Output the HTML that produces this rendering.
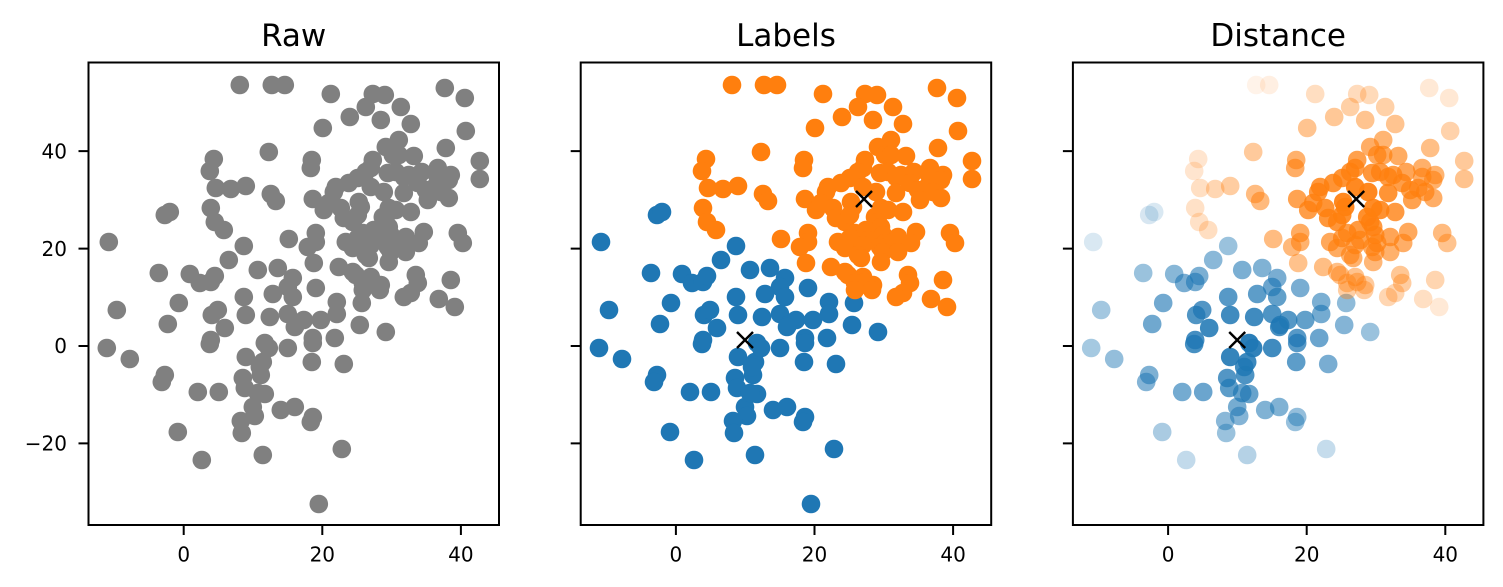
<!DOCTYPE html>
<html><head><meta charset="utf-8"><style>
html,body{margin:0;padding:0;background:#fff;}
svg{display:block;}
text{font-family:"DejaVu Sans","Liberation Sans",sans-serif;fill:#000;}
</style></head><body>
<svg width="1503" height="587" viewBox="0 0 1503 587" xmlns="http://www.w3.org/2000/svg">
<defs>
<g id="B">
<circle cx="601" cy="242" r="9.3"/><circle cx="609" cy="310" r="9.3"/><circle cx="599" cy="348" r="9.3"/><circle cx="622" cy="359" r="9.3"/><circle cx="651" cy="273" r="9.3"/><circle cx="657" cy="215" r="9.3"/><circle cx="662" cy="212" r="9.3"/><circle cx="671" cy="303" r="9.3"/><circle cx="660" cy="324" r="9.3"/><circle cx="657" cy="375" r="9.3"/><circle cx="654" cy="382" r="9.3"/><circle cx="690" cy="392" r="9.3"/><circle cx="711" cy="392" r="9.3"/><circle cx="670" cy="432" r="9.3"/><circle cx="694" cy="460" r="9.3"/><circle cx="682" cy="274" r="9.3"/><circle cx="692" cy="283" r="9.3"/><circle cx="703" cy="282" r="9.3"/><circle cx="707" cy="276" r="9.3"/><circle cx="721" cy="260" r="9.3"/><circle cx="736" cy="246" r="9.3"/><circle cx="704" cy="315" r="9.3"/><circle cx="710" cy="310" r="9.3"/><circle cx="717" cy="328" r="9.3"/><circle cx="702" cy="344" r="9.3"/><circle cx="703" cy="340" r="9.3"/><circle cx="736" cy="297" r="9.3"/><circle cx="738" cy="315" r="9.3"/><circle cx="750" cy="270" r="9.3"/><circle cx="770" cy="268" r="9.3"/><circle cx="785" cy="278" r="9.3"/><circle cx="780" cy="287" r="9.3"/><circle cx="765" cy="294" r="9.3"/><circle cx="762" cy="317" r="9.3"/><circle cx="780" cy="314" r="9.3"/><circle cx="738" cy="357" r="9.3"/><circle cx="757" cy="343" r="9.3"/><circle cx="755" cy="362" r="9.3"/><circle cx="753" cy="375" r="9.3"/><circle cx="735" cy="378" r="9.3"/><circle cx="737" cy="388" r="9.3"/><circle cx="757" cy="394" r="9.3"/><circle cx="745" cy="407" r="9.3"/><circle cx="747" cy="416" r="9.3"/><circle cx="733" cy="421" r="9.3"/><circle cx="734" cy="433" r="9.3"/><circle cx="755" cy="455" r="9.3"/><circle cx="773" cy="410" r="9.3"/><circle cx="787" cy="407" r="9.3"/><circle cx="788" cy="325" r="9.3"/><circle cx="796" cy="320" r="9.3"/><circle cx="813" cy="320" r="9.3"/><circle cx="780" cy="348" r="9.3"/><circle cx="785" cy="297" r="9.3"/><circle cx="808" cy="288" r="9.3"/><circle cx="829" cy="302" r="9.3"/><circle cx="829" cy="314" r="9.3"/><circle cx="854" cy="303" r="9.3"/><circle cx="852" cy="325" r="9.3"/><circle cx="878" cy="332" r="9.3"/><circle cx="787" cy="327" r="9.3"/><circle cx="805" cy="338" r="9.3"/><circle cx="805" cy="343" r="9.3"/><circle cx="827" cy="338" r="9.3"/><circle cx="804" cy="362" r="9.3"/><circle cx="836" cy="364" r="9.3"/><circle cx="805" cy="417" r="9.3"/><circle cx="803" cy="422" r="9.3"/><circle cx="834" cy="449" r="9.3"/><circle cx="811" cy="504" r="9.3"/><circle cx="761" cy="348" r="9.3"/><circle cx="752" cy="367" r="9.3"/><circle cx="750" cy="393" r="9.3"/>
</g>
<g id="O">
<circle cx="732" cy="85" r="9.3"/><circle cx="764" cy="85" r="9.3"/><circle cx="777" cy="85" r="9.3"/><circle cx="761" cy="152" r="9.3"/><circle cx="706" cy="159" r="9.3"/><circle cx="702" cy="171" r="9.3"/><circle cx="708" cy="188" r="9.3"/><circle cx="723" cy="189" r="9.3"/><circle cx="738" cy="186" r="9.3"/><circle cx="763" cy="194" r="9.3"/><circle cx="768" cy="201" r="9.3"/><circle cx="703" cy="208" r="9.3"/><circle cx="707" cy="222" r="9.3"/><circle cx="716" cy="230" r="9.3"/><circle cx="781" cy="239" r="9.3"/><circle cx="823" cy="94" r="9.3"/><circle cx="865" cy="94" r="9.3"/><circle cx="877" cy="95" r="9.3"/><circle cx="858" cy="107" r="9.3"/><circle cx="893" cy="107" r="9.3"/><circle cx="842" cy="117" r="9.3"/><circle cx="873" cy="120" r="9.3"/><circle cx="903" cy="124" r="9.3"/><circle cx="937" cy="88" r="9.3"/><circle cx="957" cy="98" r="9.3"/><circle cx="958" cy="131" r="9.3"/><circle cx="815" cy="128" r="9.3"/><circle cx="938" cy="148" r="9.3"/><circle cx="972" cy="161" r="9.3"/><circle cx="972" cy="179" r="9.3"/><circle cx="804" cy="160" r="9.3"/><circle cx="803" cy="168" r="9.3"/><circle cx="891" cy="140" r="9.3"/><circle cx="878" cy="147" r="9.3"/><circle cx="885" cy="155" r="9.3"/><circle cx="891" cy="155" r="9.3"/><circle cx="906" cy="156" r="9.3"/><circle cx="865" cy="160" r="9.3"/><circle cx="863" cy="168" r="9.3"/><circle cx="858" cy="172" r="9.3"/><circle cx="880" cy="173" r="9.3"/><circle cx="888" cy="172" r="9.3"/><circle cx="896" cy="177" r="9.3"/><circle cx="901" cy="175" r="9.3"/><circle cx="914" cy="172" r="9.3"/><circle cx="930" cy="168" r="9.3"/><circle cx="930" cy="177" r="9.3"/><circle cx="943" cy="175" r="9.3"/><circle cx="941" cy="180" r="9.3"/><circle cx="850" cy="178" r="9.3"/><circle cx="841" cy="183" r="9.3"/><circle cx="828" cy="187" r="9.3"/><circle cx="826" cy="192" r="9.3"/><circle cx="863" cy="187" r="9.3"/><circle cx="876" cy="192" r="9.3"/><circle cx="896" cy="193" r="9.3"/><circle cx="910" cy="183" r="9.3"/><circle cx="918" cy="190" r="9.3"/><circle cx="926" cy="188" r="9.3"/><circle cx="933" cy="192" r="9.3"/><circle cx="920" cy="200" r="9.3"/><circle cx="941" cy="198" r="9.3"/><circle cx="805" cy="199" r="9.3"/><circle cx="816" cy="210" r="9.3"/><circle cx="821" cy="203" r="9.3"/><circle cx="833" cy="208" r="9.3"/><circle cx="851" cy="202" r="9.3"/><circle cx="853" cy="207" r="9.3"/><circle cx="881" cy="208" r="9.3"/><circle cx="888" cy="210" r="9.3"/><circle cx="903" cy="212" r="9.3"/><circle cx="836" cy="218" r="9.3"/><circle cx="845" cy="222" r="9.3"/><circle cx="850" cy="215" r="9.3"/><circle cx="875" cy="217" r="9.3"/><circle cx="878" cy="222" r="9.3"/><circle cx="881" cy="227" r="9.3"/><circle cx="855" cy="233" r="9.3"/><circle cx="850" cy="238" r="9.3"/><circle cx="866" cy="230" r="9.3"/><circle cx="868" cy="240" r="9.3"/><circle cx="883" cy="235" r="9.3"/><circle cx="885" cy="243" r="9.3"/><circle cx="898" cy="237" r="9.3"/><circle cx="916" cy="232" r="9.3"/><circle cx="911" cy="243" r="9.3"/><circle cx="950" cy="233" r="9.3"/><circle cx="955" cy="243" r="9.3"/><circle cx="838" cy="242" r="9.3"/><circle cx="845" cy="248" r="9.3"/><circle cx="863" cy="245" r="9.3"/><circle cx="880" cy="247" r="9.3"/><circle cx="883" cy="252" r="9.3"/><circle cx="898" cy="252" r="9.3"/><circle cx="858" cy="255" r="9.3"/><circle cx="861" cy="258" r="9.3"/><circle cx="881" cy="262" r="9.3"/><circle cx="808" cy="233" r="9.3"/><circle cx="808" cy="242" r="9.3"/><circle cx="800" cy="247" r="9.3"/><circle cx="806" cy="263" r="9.3"/><circle cx="831" cy="267" r="9.3"/><circle cx="845" cy="272" r="9.3"/><circle cx="848" cy="275" r="9.3"/><circle cx="863" cy="277" r="9.3"/><circle cx="873" cy="285" r="9.3"/><circle cx="865" cy="282" r="9.3"/><circle cx="855" cy="283" r="9.3"/><circle cx="908" cy="275" r="9.3"/><circle cx="910" cy="283" r="9.3"/><circle cx="903" cy="293" r="9.3"/><circle cx="943" cy="280" r="9.3"/><circle cx="896" cy="297" r="9.3"/><circle cx="931" cy="299" r="9.3"/><circle cx="947" cy="307" r="9.3"/><circle cx="855" cy="290" r="9.3"/><circle cx="872" cy="290" r="9.3"/>
</g>
<g id="X" stroke="#000" stroke-width="2.4" fill="none">
<path d="M737,332 L753,348 M753,332 L737,348"/>
<path d="M856,191 L872,207 M872,191 L856,207"/>
</g>
</defs>

<!-- Panel 1: Raw -->
<g transform="translate(-492.2,0)" fill="#808080">
<use href="#B"/><use href="#O"/>
</g>

<!-- Panel 2: Labels -->
<use href="#B" fill="#1f77b4"/>
<use href="#O" fill="#ff7f0e"/>
<use href="#X"/>

<!-- Panel 3: Distance -->
<g transform="translate(492.2,0)">
<g fill="#1f77b4">
<circle cx="601" cy="242" r="9.3" fill-opacity="0.17"/><circle cx="609" cy="310" r="9.3" fill-opacity="0.41"/><circle cx="599" cy="348" r="9.3" fill-opacity="0.40"/><circle cx="622" cy="359" r="9.3" fill-opacity="0.48"/><circle cx="651" cy="273" r="9.3" fill-opacity="0.45"/><circle cx="657" cy="215" r="9.3" fill-opacity="0.18"/><circle cx="662" cy="212" r="9.3" fill-opacity="0.17"/><circle cx="671" cy="303" r="9.3" fill-opacity="0.63"/><circle cx="660" cy="324" r="9.3" fill-opacity="0.64"/><circle cx="657" cy="375" r="9.3" fill-opacity="0.58"/><circle cx="654" cy="382" r="9.3" fill-opacity="0.55"/><circle cx="690" cy="392" r="9.3" fill-opacity="0.62"/><circle cx="711" cy="392" r="9.3" fill-opacity="0.66"/><circle cx="670" cy="432" r="9.3" fill-opacity="0.38"/><circle cx="694" cy="460" r="9.3" fill-opacity="0.27"/><circle cx="682" cy="274" r="9.3" fill-opacity="0.53"/><circle cx="692" cy="283" r="9.3" fill-opacity="0.60"/><circle cx="703" cy="282" r="9.3" fill-opacity="0.62"/><circle cx="707" cy="276" r="9.3" fill-opacity="0.59"/><circle cx="721" cy="260" r="9.3" fill-opacity="0.52"/><circle cx="736" cy="246" r="9.3" fill-opacity="0.45"/><circle cx="704" cy="315" r="9.3" fill-opacity="0.78"/><circle cx="710" cy="310" r="9.3" fill-opacity="0.77"/><circle cx="717" cy="328" r="9.3" fill-opacity="0.87"/><circle cx="702" cy="344" r="9.3" fill-opacity="0.82"/><circle cx="703" cy="340" r="9.3" fill-opacity="0.83"/><circle cx="736" cy="297" r="9.3" fill-opacity="0.75"/><circle cx="738" cy="315" r="9.3" fill-opacity="0.85"/><circle cx="750" cy="270" r="9.3" fill-opacity="0.59"/><circle cx="770" cy="268" r="9.3" fill-opacity="0.57"/><circle cx="785" cy="278" r="9.3" fill-opacity="0.60"/><circle cx="780" cy="287" r="9.3" fill-opacity="0.66"/><circle cx="765" cy="294" r="9.3" fill-opacity="0.72"/><circle cx="762" cy="317" r="9.3" fill-opacity="0.85"/><circle cx="780" cy="314" r="9.3" fill-opacity="0.79"/><circle cx="738" cy="357" r="9.3" fill-opacity="0.90"/><circle cx="757" cy="343" r="9.3" fill-opacity="0.95"/><circle cx="755" cy="362" r="9.3" fill-opacity="0.87"/><circle cx="753" cy="375" r="9.3" fill-opacity="0.79"/><circle cx="735" cy="378" r="9.3" fill-opacity="0.77"/><circle cx="737" cy="388" r="9.3" fill-opacity="0.72"/><circle cx="757" cy="394" r="9.3" fill-opacity="0.68"/><circle cx="745" cy="407" r="9.3" fill-opacity="0.61"/><circle cx="747" cy="416" r="9.3" fill-opacity="0.55"/><circle cx="733" cy="421" r="9.3" fill-opacity="0.52"/><circle cx="734" cy="433" r="9.3" fill-opacity="0.45"/><circle cx="755" cy="455" r="9.3" fill-opacity="0.33"/><circle cx="773" cy="410" r="9.3" fill-opacity="0.57"/><circle cx="787" cy="407" r="9.3" fill-opacity="0.57"/><circle cx="788" cy="325" r="9.3" fill-opacity="0.80"/><circle cx="796" cy="320" r="9.3" fill-opacity="0.76"/><circle cx="813" cy="320" r="9.3" fill-opacity="0.70"/><circle cx="780" cy="348" r="9.3" fill-opacity="0.85"/><circle cx="785" cy="297" r="9.3" fill-opacity="0.70"/><circle cx="808" cy="288" r="9.3" fill-opacity="0.60"/><circle cx="829" cy="302" r="9.3" fill-opacity="0.59"/><circle cx="829" cy="314" r="9.3" fill-opacity="0.62"/><circle cx="854" cy="303" r="9.3" fill-opacity="0.50"/><circle cx="852" cy="325" r="9.3" fill-opacity="0.55"/><circle cx="878" cy="332" r="9.3" fill-opacity="0.45"/><circle cx="787" cy="327" r="9.3" fill-opacity="0.81"/><circle cx="805" cy="338" r="9.3" fill-opacity="0.75"/><circle cx="805" cy="343" r="9.3" fill-opacity="0.75"/><circle cx="827" cy="338" r="9.3" fill-opacity="0.66"/><circle cx="804" cy="362" r="9.3" fill-opacity="0.72"/><circle cx="836" cy="364" r="9.3" fill-opacity="0.60"/><circle cx="805" cy="417" r="9.3" fill-opacity="0.48"/><circle cx="803" cy="422" r="9.3" fill-opacity="0.46"/><circle cx="834" cy="449" r="9.3" fill-opacity="0.26"/><circle cx="761" cy="348" r="9.3" fill-opacity="0.92"/><circle cx="752" cy="367" r="9.3" fill-opacity="0.84"/><circle cx="750" cy="393" r="9.3" fill-opacity="0.69"/>
</g>
<g fill="#ff7f0e">
<circle cx="764" cy="85" r="9.3" fill-opacity="0.09"/><circle cx="777" cy="85" r="9.3" fill-opacity="0.12"/><circle cx="761" cy="152" r="9.3" fill-opacity="0.41"/><circle cx="706" cy="159" r="9.3" fill-opacity="0.20"/><circle cx="702" cy="171" r="9.3" fill-opacity="0.20"/><circle cx="708" cy="188" r="9.3" fill-opacity="0.25"/><circle cx="723" cy="189" r="9.3" fill-opacity="0.32"/><circle cx="738" cy="186" r="9.3" fill-opacity="0.39"/><circle cx="763" cy="194" r="9.3" fill-opacity="0.52"/><circle cx="768" cy="201" r="9.3" fill-opacity="0.54"/><circle cx="703" cy="208" r="9.3" fill-opacity="0.23"/><circle cx="707" cy="222" r="9.3" fill-opacity="0.23"/><circle cx="716" cy="230" r="9.3" fill-opacity="0.26"/><circle cx="781" cy="239" r="9.3" fill-opacity="0.52"/><circle cx="823" cy="94" r="9.3" fill-opacity="0.26"/><circle cx="865" cy="94" r="9.3" fill-opacity="0.28"/><circle cx="877" cy="95" r="9.3" fill-opacity="0.29"/><circle cx="858" cy="107" r="9.3" fill-opacity="0.37"/><circle cx="893" cy="107" r="9.3" fill-opacity="0.36"/><circle cx="842" cy="117" r="9.3" fill-opacity="0.43"/><circle cx="873" cy="120" r="9.3" fill-opacity="0.46"/><circle cx="903" cy="124" r="9.3" fill-opacity="0.46"/><circle cx="937" cy="88" r="9.3" fill-opacity="0.17"/><circle cx="957" cy="98" r="9.3" fill-opacity="0.18"/><circle cx="958" cy="131" r="9.3" fill-opacity="0.35"/><circle cx="815" cy="128" r="9.3" fill-opacity="0.46"/><circle cx="938" cy="148" r="9.3" fill-opacity="0.50"/><circle cx="972" cy="161" r="9.3" fill-opacity="0.42"/><circle cx="972" cy="179" r="9.3" fill-opacity="0.47"/><circle cx="804" cy="160" r="9.3" fill-opacity="0.61"/><circle cx="803" cy="168" r="9.3" fill-opacity="0.64"/><circle cx="891" cy="140" r="9.3" fill-opacity="0.58"/><circle cx="878" cy="147" r="9.3" fill-opacity="0.64"/><circle cx="885" cy="155" r="9.3" fill-opacity="0.69"/><circle cx="891" cy="155" r="9.3" fill-opacity="0.68"/><circle cx="906" cy="156" r="9.3" fill-opacity="0.65"/><circle cx="865" cy="160" r="9.3" fill-opacity="0.74"/><circle cx="863" cy="168" r="9.3" fill-opacity="0.79"/><circle cx="858" cy="172" r="9.3" fill-opacity="0.81"/><circle cx="880" cy="173" r="9.3" fill-opacity="0.81"/><circle cx="888" cy="172" r="9.3" fill-opacity="0.78"/><circle cx="896" cy="177" r="9.3" fill-opacity="0.79"/><circle cx="901" cy="175" r="9.3" fill-opacity="0.76"/><circle cx="914" cy="172" r="9.3" fill-opacity="0.70"/><circle cx="930" cy="168" r="9.3" fill-opacity="0.62"/><circle cx="930" cy="177" r="9.3" fill-opacity="0.65"/><circle cx="943" cy="175" r="9.3" fill-opacity="0.59"/><circle cx="941" cy="180" r="9.3" fill-opacity="0.61"/><circle cx="850" cy="178" r="9.3" fill-opacity="0.84"/><circle cx="841" cy="183" r="9.3" fill-opacity="0.84"/><circle cx="828" cy="187" r="9.3" fill-opacity="0.81"/><circle cx="826" cy="192" r="9.3" fill-opacity="0.81"/><circle cx="863" cy="187" r="9.3" fill-opacity="0.92"/><circle cx="876" cy="192" r="9.3" fill-opacity="0.93"/><circle cx="896" cy="193" r="9.3" fill-opacity="0.84"/><circle cx="910" cy="183" r="9.3" fill-opacity="0.76"/><circle cx="918" cy="190" r="9.3" fill-opacity="0.73"/><circle cx="926" cy="188" r="9.3" fill-opacity="0.70"/><circle cx="933" cy="192" r="9.3" fill-opacity="0.67"/><circle cx="920" cy="200" r="9.3" fill-opacity="0.73"/><circle cx="941" cy="198" r="9.3" fill-opacity="0.63"/><circle cx="805" cy="199" r="9.3" fill-opacity="0.72"/><circle cx="816" cy="210" r="9.3" fill-opacity="0.76"/><circle cx="821" cy="203" r="9.3" fill-opacity="0.79"/><circle cx="833" cy="208" r="9.3" fill-opacity="0.84"/><circle cx="851" cy="202" r="9.3" fill-opacity="0.93"/><circle cx="853" cy="207" r="9.3" fill-opacity="0.92"/><circle cx="881" cy="208" r="9.3" fill-opacity="0.90"/><circle cx="888" cy="210" r="9.3" fill-opacity="0.86"/><circle cx="903" cy="212" r="9.3" fill-opacity="0.79"/><circle cx="836" cy="218" r="9.3" fill-opacity="0.81"/><circle cx="845" cy="222" r="9.3" fill-opacity="0.82"/><circle cx="850" cy="215" r="9.3" fill-opacity="0.87"/><circle cx="875" cy="217" r="9.3" fill-opacity="0.87"/><circle cx="878" cy="222" r="9.3" fill-opacity="0.83"/><circle cx="881" cy="227" r="9.3" fill-opacity="0.79"/><circle cx="855" cy="233" r="9.3" fill-opacity="0.76"/><circle cx="850" cy="238" r="9.3" fill-opacity="0.73"/><circle cx="866" cy="230" r="9.3" fill-opacity="0.79"/><circle cx="868" cy="240" r="9.3" fill-opacity="0.72"/><circle cx="883" cy="235" r="9.3" fill-opacity="0.74"/><circle cx="885" cy="243" r="9.3" fill-opacity="0.69"/><circle cx="898" cy="237" r="9.3" fill-opacity="0.70"/><circle cx="916" cy="232" r="9.3" fill-opacity="0.67"/><circle cx="911" cy="243" r="9.3" fill-opacity="0.63"/><circle cx="950" cy="233" r="9.3" fill-opacity="0.53"/><circle cx="955" cy="243" r="9.3" fill-opacity="0.47"/><circle cx="838" cy="242" r="9.3" fill-opacity="0.68"/><circle cx="845" cy="248" r="9.3" fill-opacity="0.66"/><circle cx="863" cy="245" r="9.3" fill-opacity="0.69"/><circle cx="880" cy="247" r="9.3" fill-opacity="0.66"/><circle cx="883" cy="252" r="9.3" fill-opacity="0.63"/><circle cx="898" cy="252" r="9.3" fill-opacity="0.61"/><circle cx="858" cy="255" r="9.3" fill-opacity="0.62"/><circle cx="861" cy="258" r="9.3" fill-opacity="0.60"/><circle cx="881" cy="262" r="9.3" fill-opacity="0.56"/><circle cx="808" cy="233" r="9.3" fill-opacity="0.65"/><circle cx="808" cy="242" r="9.3" fill-opacity="0.60"/><circle cx="800" cy="247" r="9.3" fill-opacity="0.55"/><circle cx="806" cy="263" r="9.3" fill-opacity="0.48"/><circle cx="831" cy="267" r="9.3" fill-opacity="0.51"/><circle cx="845" cy="272" r="9.3" fill-opacity="0.50"/><circle cx="848" cy="275" r="9.3" fill-opacity="0.48"/><circle cx="863" cy="277" r="9.3" fill-opacity="0.47"/><circle cx="873" cy="285" r="9.3" fill-opacity="0.41"/><circle cx="865" cy="282" r="9.3" fill-opacity="0.44"/><circle cx="855" cy="283" r="9.3" fill-opacity="0.43"/><circle cx="908" cy="275" r="9.3" fill-opacity="0.44"/><circle cx="910" cy="283" r="9.3" fill-opacity="0.39"/><circle cx="903" cy="293" r="9.3" fill-opacity="0.33"/><circle cx="943" cy="280" r="9.3" fill-opacity="0.33"/><circle cx="896" cy="297" r="9.3" fill-opacity="0.32"/><circle cx="931" cy="299" r="9.3" fill-opacity="0.25"/><circle cx="947" cy="307" r="9.3" fill-opacity="0.17"/><circle cx="855" cy="290" r="9.3" fill-opacity="0.38"/><circle cx="872" cy="290" r="9.3" fill-opacity="0.38"/>
</g>
<use href="#X"/>
</g>

<!-- Frames -->
<g fill="none" stroke="#000" stroke-width="2">
<rect x="88.5" y="62.5" width="410.5" height="462.5"/>
<rect x="580.7" y="62.5" width="410.5" height="462.5"/>
<rect x="1072.9" y="62.5" width="410.5" height="462.5"/>
</g>

<!-- Ticks -->
<g stroke="#000" stroke-width="2">
<path d="M183.7,525 V535 M322.3,525 V535 M460.9,525 V535"/>
<path d="M675.9,525 V535 M814.5,525 V535 M953.1,525 V535"/>
<path d="M1168.1,525 V535 M1306.7,525 V535 M1445.3,525 V535"/>
<path d="M78.5,151.1 H88.5 M78.5,248.6 H88.5 M78.5,346 H88.5 M78.5,443.4 H88.5"/>
<path d="M570.7,151.1 H580.7 M570.7,248.6 H580.7 M570.7,346 H580.7 M570.7,443.4 H580.7"/>
<path d="M1062.9,151.1 H1072.9 M1062.9,248.6 H1072.9 M1062.9,346 H1072.9 M1062.9,443.4 H1072.9"/>
</g>

<!-- Tick labels -->
<g font-size="20" text-anchor="middle">
<text x="183.7" y="561.5">0</text><text x="322.3" y="561.5">20</text><text x="460.9" y="561.5">40</text>
<text x="675.9" y="561.5">0</text><text x="814.5" y="561.5">20</text><text x="953.1" y="561.5">40</text>
<text x="1168.1" y="561.5">0</text><text x="1306.7" y="561.5">20</text><text x="1445.3" y="561.5">40</text>
</g>
<g font-size="20" text-anchor="end">
<text x="67" y="158.3">40</text>
<text x="67" y="255.8">20</text>
<text x="67" y="353.2">0</text>
<text x="67" y="450.6">−20</text>
</g>

<!-- Titles -->
<g font-size="31" text-anchor="middle">
<text x="293.7" y="46">Raw</text>
<text x="786" y="46">Labels</text>
<text x="1278.2" y="46">Distance</text>
</g>
</svg>
</body></html>
